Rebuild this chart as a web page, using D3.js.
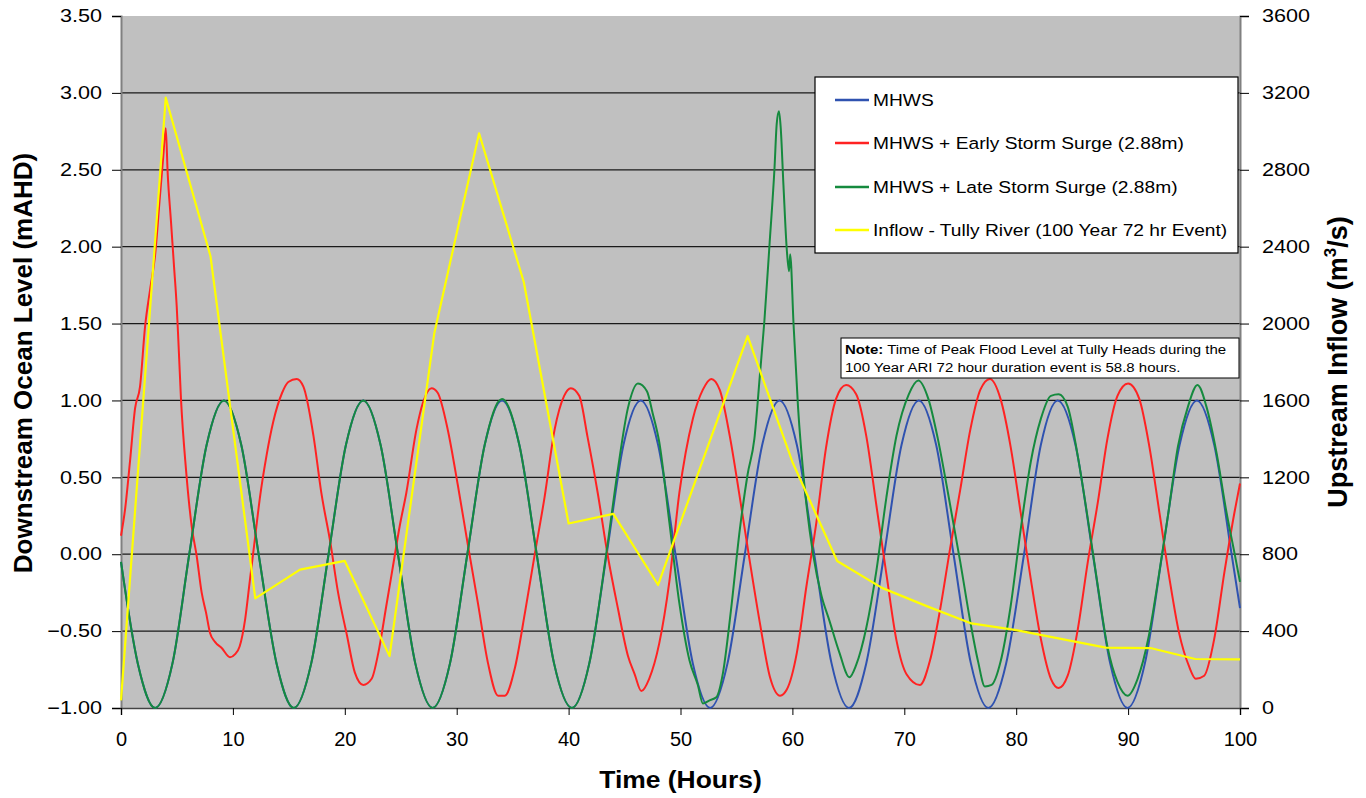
<!DOCTYPE html>
<html>
<head>
<meta charset="utf-8">
<script src="https://cdn.jsdelivr.net/npm/d3@7"></script>
<style>
  body { margin: 0; background: #fff; }
  svg { display: block; font-family: Arial, "Liberation Sans", sans-serif; }
</style>
</head>
<body>
<div id="app"></div>
<script>
'use strict'

// MHWS tide (blue)
const mhwsHours = [0, 1.5, 3.05, 4.6, 6.1, 7.65, 9.2, 10.75, 12.3, 13.9, 15.45, 17.0, 18.55, 20.1, 21.65, 23.2, 24.75,
  26.3, 27.85, 29.4, 30.95, 32.5, 34.05, 35.6, 37.15, 38.7, 40.3, 41.85, 43.4, 44.9, 46.45, 48.0, 49.55, 51.1, 52.65,
  54.2, 55.75, 57.3, 58.85, 60.4, 61.95, 63.5, 65.05, 66.6, 68.2, 69.75, 71.3, 72.85, 74.4, 75.95, 77.5, 79.1, 80.7,
  82.2, 83.7, 85.3, 86.85, 88.4, 89.95, 91.5, 93.05, 94.6, 96.15, 97.7, 99.25, 100]
const mhwsLevel = [-0.05, -0.71, -1, -0.71, 0, 0.71, 1, 0.71, 0, -0.71, -1, -0.71, 0, 0.71, 1, 0.71, 0,
  -0.71, -1, -0.71, 0, 0.71, 1, 0.71, 0, -0.71, -1, -0.71, 0, 0.71, 1, 0.71, 0, -0.71, -1,
  -0.71, 0, 0.71, 1, 0.71, 0, -0.71, -1, -0.71, 0, 0.71, 1, 0.71, 0, -0.71, -1, -0.71, 0,
  0.71, 1, 0.71, 0, -0.71, -1, -0.71, 0, 0.71, 1, 0.71, 0, -0.35]

// MHWS + early storm surge (red)
const earlyHours = [0, 0.36, 0.8, 1.26, 1.7, 2.15, 2.6, 3.04, 3.45, 3.78, 4.0, 4.17, 4.47, 4.74, 4.98, 5.12, 5.36, 5.81,
  6.32, 6.76, 7.21, 7.6, 7.95, 8.4, 9.0, 9.74, 10.2, 10.6, 11.1, 11.5, 12.0, 12.4, 13.0, 13.6, 14.4, 14.95, 15.7, 16.3,
  17.2, 17.9, 18.7, 19.4, 20.2, 20.9, 21.65, 22.4, 23.0, 23.7, 24.3, 24.9, 25.5, 26.4, 27.0, 27.75, 28.3, 29.2, 30.1,
  31.0, 31.9, 32.8, 33.7, 34.3, 35.2, 36.1, 37.0, 37.85, 38.75, 39.6, 40.2, 40.95, 41.7, 42.6, 43.5, 44.4, 45.3, 45.9,
  46.5, 47.2, 48.1, 49.0, 49.9, 51.1, 52.0, 52.75, 53.5, 54.4, 55.3, 56.2, 57.1, 58.0, 58.9, 59.5, 60.4, 61.25, 62.15,
  63.0, 63.9, 64.8, 65.7, 66.6, 67.5, 68.4, 69.3, 70.2, 71.4, 72.3, 73.2, 74.1, 75.0, 75.9, 76.8, 77.65, 78.6, 79.5,
  80.4, 81.3, 82.2, 83.1, 83.8, 84.6, 85.5, 86.4, 87.3, 88.15, 89.05, 90.0, 91.0, 91.9, 92.8, 93.7, 94.55, 95.45, 96.05,
  96.8, 97.7, 98.6, 99.5, 100]
const earlyLevel = [0.12, 0.29, 0.6, 0.95, 1.09, 1.48, 1.72, 1.94, 2.3, 2.59, 2.77, 2.48, 2.16, 1.87, 1.61, 1.4, 1.01, 0.55,
  0.18, -0.01, -0.25, -0.38, -0.51, -0.57, -0.61, -0.67, -0.65, -0.6, -0.42, -0.18, 0.12, 0.36, 0.64, 0.86, 1.05, 1.12, 1.14, 1.09,
  0.77, 0.4, 0.08, -0.25, -0.53, -0.77, -0.85, -0.81, -0.64, -0.34, -0.08, 0.18, 0.4, 0.81, 0.99, 1.08, 1.05, 0.81, 0.45,
  0.06, -0.32, -0.71, -0.92, -0.92, -0.74, -0.38, 0.01, 0.37, 0.81, 1.03, 1.08, 1.03, 0.76, 0.4, -0.01, -0.35, -0.66, -0.78,
  -0.89, -0.81, -0.58, -0.18, 0.4, 0.88, 1.07, 1.14, 1.07, 0.77, 0.37, -0.05, -0.45, -0.8, -0.92, -0.88, -0.64, -0.21, 0.21,
  0.69, 1.01, 1.1, 1.04, 0.77, 0.32, -0.13, -0.56, -0.78, -0.85, -0.69, -0.36, 0.04, 0.42, 0.81, 1.07, 1.14, 1.01, 0.7,
  0.27, -0.16, -0.55, -0.81, -0.87, -0.79, -0.49, -0.05, 0.34, 0.75, 1.03, 1.11, 1.01, 0.7, 0.27, -0.16, -0.51, -0.73, -0.81,
  -0.79, -0.55, -0.12, 0.27, 0.46]

// MHWS + late storm surge (green)
const lateHours = [0, 1.5, 3.05, 4.6, 6.1, 7.65, 9.2, 10.75, 12.3, 13.9, 15.45, 17.0, 18.55, 20.1, 21.65, 23.2, 24.75,
  26.3, 27.85, 29.4, 30.95, 32.5, 34.05, 35.6, 37.15, 38.7, 40.3, 41.85, 43.4, 44.4, 45.3, 46.2, 47.0, 47.5, 48.1, 49.0,
  49.9, 50.8, 51.55, 52.0, 52.6, 53.2, 53.8, 54.5, 55.3, 56.0, 56.6, 57.1, 57.5, 57.97, 58.4, 58.6, 58.8, 58.95, 59.2,
  59.5, 59.7, 59.8, 60.1, 60.5, 61.1, 61.85, 62.6, 63.3, 64.2, 65.1, 65.7, 66.6, 67.5, 68.4, 69.3, 70.4, 71.25, 72.15,
  73.0, 73.9, 75.0, 75.9, 76.6, 77.2, 77.8, 78.6, 79.5, 80.4, 81.3, 82.2, 83.1, 83.8, 84.6, 85.5, 86.4, 87.3, 88.15,
  89.05, 89.95, 90.85, 91.8, 92.7, 93.6, 94.45, 95.35, 96.2, 97.0, 97.9, 98.8, 99.5, 100]
const lateLevel = [-0.05, -0.71, -1, -0.71, 0, 0.71, 1, 0.71, 0, -0.71, -1, -0.71, 0, 0.71, 1, 0.71, 0,
  -0.71, -1, -0.71, 0, 0.71, 1.01, 0.71, 0, -0.71, -1, -0.71, 0.02, 0.55, 0.95, 1.11, 1.06, 0.92, 0.73, 0.21,
  -0.32, -0.69, -0.85, -0.97, -0.95, -0.93, -0.77, -0.37, 0.16, 0.52, 0.75, 1.17, 1.52, 2.03, 2.51, 2.8, 2.88, 2.78, 2.4,
  1.98, 1.84, 1.95, 1.5, 0.96, 0.43, 0, -0.27, -0.43, -0.64, -0.8, -0.72, -0.48, -0.11, 0.37, 0.77, 1.04, 1.13, 1.01,
  0.75, 0.4, -0.05, -0.44, -0.7, -0.86, -0.85, -0.7, -0.34, 0.16, 0.6, 0.88, 1.03, 1.04, 0.96, 0.64, 0.23, -0.21, -0.6,
  -0.83, -0.92, -0.81, -0.55, -0.16, 0.27, 0.7, 0.96, 1.1, 0.96, 0.66, 0.27, 0.01, -0.18]

// Tully River inflow (yellow, right axis)
const inflowHours = [0, 4, 8, 12, 16, 20, 24, 28, 32, 36, 40, 44, 48, 52, 56, 60, 64, 68, 72, 76, 80, 84, 88, 92, 96, 100]
const inflowRate = [40, 3175, 2350, 570, 720, 765, 270, 1950, 2990, 2215, 960, 1010, 640, 1290, 1935, 1280, 765, 625,
  530, 440, 405, 360, 314, 312, 255, 253]

const levelTicks = [-1, -0.5, 0, 0.5, 1, 1.5, 2, 2.5, 3, 3.5]
const flowTicks = [0, 400, 800, 1200, 1600, 2000, 2400, 2800, 3200, 3600]
const hourTicks = [0, 10, 20, 30, 40, 50, 60, 70, 80, 90, 100]

const legendLabels = ['MHWS', 'MHWS + Early Storm Surge (2.88m)', 'MHWS + Late Storm Surge (2.88m)',
  'Inflow - Tully River (100 Year 72 hr Event)']
const colors = ['#2f52b0', '#ff2222', '#158a3e', '#ffff00']

const margin = { top: 16, right: 126, bottom: 90, left: 121 }
const W = 1366, H = 798
const width = W - margin.left - margin.right
const height = H - margin.top - margin.bottom

const root = d3.select('#app').append('svg')
  .attr('width', W)
  .attr('height', H)

const svg = root.append('g')
  .attr('transform', `translate(${margin.left}, ${margin.top})`)

const x = d3.scaleLinear().domain([0, 100]).range([0, width])
const yL = d3.scaleLinear().domain([-1, 3.5]).range([height, 0])
const yR = d3.scaleLinear().domain([0, 3600]).range([height, 0])

svg.append('rect')
  .attr('width', width)
  .attr('height', height)
  .attr('fill', '#c0c0c0')

// gridlines
svg.append('g')
  .selectAll('line')
  .data(levelTicks.slice(1, -1))
  .join('line')
  .attr('x1', 0).attr('x2', width)
  .attr('y1', d => yL(d)).attr('y2', d => yL(d))
  .attr('stroke', '#1a1a1a')
  .attr('stroke-width', 1.2)

const stretch = 1.2

// axes
const leftAxis = svg.append('g')
  .call(d3.axisLeft(yL).tickValues(levelTicks).tickFormat(d3.format('.2f')).tickSize(9).tickPadding(10))
leftAxis.select('.domain').attr('stroke', '#808080').attr('stroke-width', 2)
leftAxis.selectAll('text')
  .attr('font-size', 18).attr('font-family', 'Arial, "Liberation Sans", sans-serif').attr('fill', '#000')
  .attr('transform', `scale(${stretch},1)`).attr('x', -19 / stretch)

const rightAxis = svg.append('g')
  .attr('transform', `translate(${width}, 0)`)
  .call(d3.axisRight(yR).tickValues(flowTicks).tickFormat(d3.format('d')).tickSize(9).tickPadding(13))
rightAxis.select('.domain').attr('stroke', '#808080').attr('stroke-width', 2)
rightAxis.selectAll('text')
  .attr('font-size', 18).attr('font-family', 'Arial, "Liberation Sans", sans-serif').attr('fill', '#000')
  .attr('transform', `scale(${stretch},1)`).attr('x', 22 / stretch)

const bottomAxis = svg.append('g')
  .attr('transform', `translate(0, ${height})`)
  .call(d3.axisBottom(x).tickValues(hourTicks).tickSize(7).tickPadding(17))
bottomAxis.select('.domain').attr('stroke', '#444').attr('stroke-width', 1.5)
bottomAxis.selectAll('text')
  .attr('font-size', 20).attr('font-family', 'Arial, "Liberation Sans", sans-serif').attr('fill', '#000')

// series
const lineLevel = d3.line()
  .x(d => x(d[0]))
  .y(d => yL(d[1]))
  .curve(d3.curveMonotoneX)

const levelSeries = [
  { hours: mhwsHours, vals: mhwsLevel, color: colors[0] },
  { hours: earlyHours, vals: earlyLevel, color: colors[1] },
  { hours: lateHours, vals: lateLevel, color: colors[2] }
]

const plot = svg.append('g')
levelSeries.forEach(s => {
  plot.append('path')
    .datum(d3.zip(s.hours, s.vals))
    .attr('fill', 'none')
    .attr('stroke', s.color)
    .attr('stroke-width', 2)
    .attr('stroke-linejoin', 'round')
    .attr('d', lineLevel)
})

plot.append('path')
  .datum(d3.zip(inflowHours, inflowRate))
  .attr('fill', 'none')
  .attr('stroke', colors[3])
  .attr('stroke-width', 2.2)
  .attr('stroke-linejoin', 'round')
  .attr('d', d3.line().x(d => x(d[0])).y(d => yR(d[1])))

// legend
const legend = root.append('g').attr('transform', 'translate(815, 77)')
legend.append('rect')
  .attr('width', 423).attr('height', 176)
  .attr('fill', '#fff').attr('stroke', '#000').attr('stroke-width', 1.2)

const rowY = [23, 66, 110, 153]
legendLabels.forEach((lab, i) => {
  legend.append('line')
    .attr('x1', 20).attr('x2', 54)
    .attr('y1', rowY[i]).attr('y2', rowY[i])
    .attr('stroke', colors[i]).attr('stroke-width', 2.5)
  legend.append('text')
    .attr('transform', `translate(58, ${rowY[i] + 6}) scale(1.13,1)`)
    .attr('font-size', 17)
    .attr('fill', '#000')
    .text(lab)
})

// note box
const note = root.append('g').attr('transform', 'translate(841, 338)')
note.append('rect')
  .attr('width', 398).attr('height', 40)
  .attr('fill', '#fff').attr('stroke', '#000').attr('stroke-width', 1)
const n1 = note.append('text')
  .attr('transform', 'translate(4, 16) scale(1.11,1)')
  .attr('font-size', 13.5)
n1.append('tspan').attr('font-weight', 'bold').text('Note:')
n1.append('tspan').text(' Time of Peak Flood Level at Tully Heads during the')
note.append('text')
  .attr('transform', 'translate(4, 34) scale(1.11,1)')
  .attr('font-size', 13.5)
  .text('100 Year ARI 72 hour duration event is 58.8 hours.')

// axis titles
root.append('text')
  .attr('transform', `translate(${margin.left + width / 2}, 788) scale(1.15,1)`)
  .attr('text-anchor', 'middle')
  .attr('font-size', 23).attr('font-weight', 'bold')
  .text('Time (Hours)')

root.append('text')
  .attr('transform', 'translate(32, 363) rotate(-90)')
  .attr('text-anchor', 'middle')
  .attr('font-size', 26).attr('font-weight', 'bold')
  .text('Downstream Ocean Level (mAHD)')

const rt = root.append('text')
  .attr('transform', 'translate(1347, 362) rotate(-90)')
  .attr('text-anchor', 'middle')
  .attr('font-size', 27).attr('font-weight', 'bold')
rt.append('tspan').text('Upstream Inflow (m')
rt.append('tspan').attr('font-size', 17).attr('dy', -11).text('3')
rt.append('tspan').attr('dy', 11).text('/s)')
</script>
</body>
</html>
